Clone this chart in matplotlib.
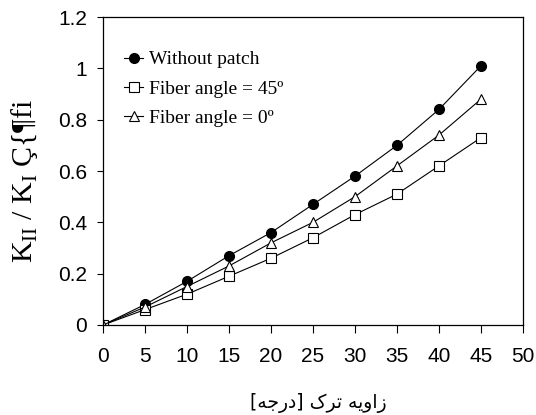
import matplotlib
matplotlib.use("Agg")
import matplotlib.pyplot as plt

# ---- data ----
angles = [0, 5, 10, 15, 20, 25, 30, 35, 40, 45]
without_patch = [0, 0.08, 0.17, 0.27, 0.36, 0.47, 0.58, 0.70, 0.84, 1.01]
fiber_45 = [0, 0.06, 0.12, 0.19, 0.26, 0.34, 0.43, 0.51, 0.62, 0.73]
fiber_0 = [0, 0.07, 0.15, 0.23, 0.32, 0.40, 0.50, 0.62, 0.74, 0.88]
series_labels = ["Without patch", "Fiber angle = 45º", "Fiber angle = 0º"]
x_ticks = [0, 5, 10, 15, 20, 25, 30, 35, 40, 45, 50]
y_ticks = [0, 0.2, 0.4, 0.6, 0.8, 1.0, 1.2]
y_tick_labels = ["0", "0.2", "0.4", "0.6", "0.8", "1", "1.2"]
x_label = "زاویه ترک [درجه]"
y_label = r"K$_{\mathregular{II}}$ / K$_{\mathregular{I}}$ Ç{¶fi"

# ---- minimal Arabic/Persian shaping + RTL ordering for display ----
FORMS = {  # iso, fin, init, med
    "ز": ("\uFEAF", "\uFEB0", None, None),
    "ا": ("\uFE8D", "\uFE8E", None, None),
    "و": ("\uFEED", "\uFEEE", None, None),
    "ی": ("\uFBFC", "\uFBFD", "\uFBFE", "\uFBFF"),
    "ه": ("\uFEE9", "\uFEEA", "\uFEEB", "\uFEEC"),
    "ت": ("\uFE95", "\uFE96", "\uFE97", "\uFE98"),
    "ر": ("\uFEAD", "\uFEAE", None, None),
    "ک": ("\uFB8E", "\uFB8F", "\uFB90", "\uFB91"),
    "د": ("\uFEA9", "\uFEAA", None, None),
    "ج": ("\uFE9D", "\uFE9E", "\uFE9F", "\uFEA0"),
}


def shape_logical(w):
    out = []
    for i, ch in enumerate(w):
        if ch not in FORMS:
            out.append(ch)
            continue
        f = FORMS[ch]
        prev = w[i - 1] if i > 0 else None
        nxt = w[i + 1] if i + 1 < len(w) else None
        jp = prev in FORMS and FORMS[prev][2] is not None
        jn = f[2] is not None and nxt in FORMS
        if jp and jn:
            out.append(f[3])
        elif jp:
            out.append(f[1])
        elif jn:
            out.append(f[2])
        else:
            out.append(f[0])
    return out


def shape(text):
    mirror = {"[": "]", "]": "["}
    glyphs = shape_logical(text)
    return "".join(mirror.get(c, c) for c in reversed(glyphs))


# ---- figure ----
W, H = 536, 415
fig = plt.figure(figsize=(W / 100, H / 100), dpi=100)
ax = fig.add_axes([103 / W, 1 - 325 / H, (523 - 103) / W, (325 - 17) / H])

tick_font = ["Liberation Sans Narrow", "Liberation Sans", "DejaVu Sans"]
serif = ["Liberation Serif", "DejaVu Serif"]

lw = 0.8
ax.plot(angles, without_patch, color="black", lw=lw, marker="o", ms=7,
        mfc="black", mec="black", label=series_labels[0])
ax.plot(angles, fiber_45, color="black", lw=lw, marker="s", ms=6.5,
        mfc="white", mec="black", mew=0.8, label=series_labels[1])
ax.plot(angles, fiber_0, color="black", lw=lw, marker="^", ms=7.5,
        mfc="white", mec="black", mew=0.8, label=series_labels[2])

ax.set_xlim(0, 50)
ax.set_ylim(0, 1.2)
ax.set_xticks(x_ticks)
ax.set_xticklabels([str(t) for t in x_ticks], family=tick_font, fontsize=15)
ax.set_yticks(y_ticks)
ax.set_yticklabels(y_tick_labels, family=tick_font, fontsize=15)
ax.tick_params(axis="x", direction="out", length=5.5, width=0.8, pad=10)
ax.tick_params(axis="y", direction="out", length=4.5, width=0.8, pad=7)
for s in ax.spines.values():
    s.set_linewidth(0.9)
    s.set_color("black")

leg = ax.legend(loc="upper left", bbox_to_anchor=(0.05, 0.89), frameon=False,
                prop={"family": serif, "size": 14}, handlelength=1.0,
                handletextpad=0.3, labelspacing=0.6, borderaxespad=0,
                borderpad=0)

fig.text(25 / W, 1 - 181 / H, y_label, rotation=90, ha="center", va="center",
         family=serif, fontsize=21.5)
fig.text(318 / W, 1 - 403 / H, shape(x_label), ha="center", va="center",
         family=["DejaVu Sans"], fontsize=13.5)

fig.savefig("out.png", dpi=100)
